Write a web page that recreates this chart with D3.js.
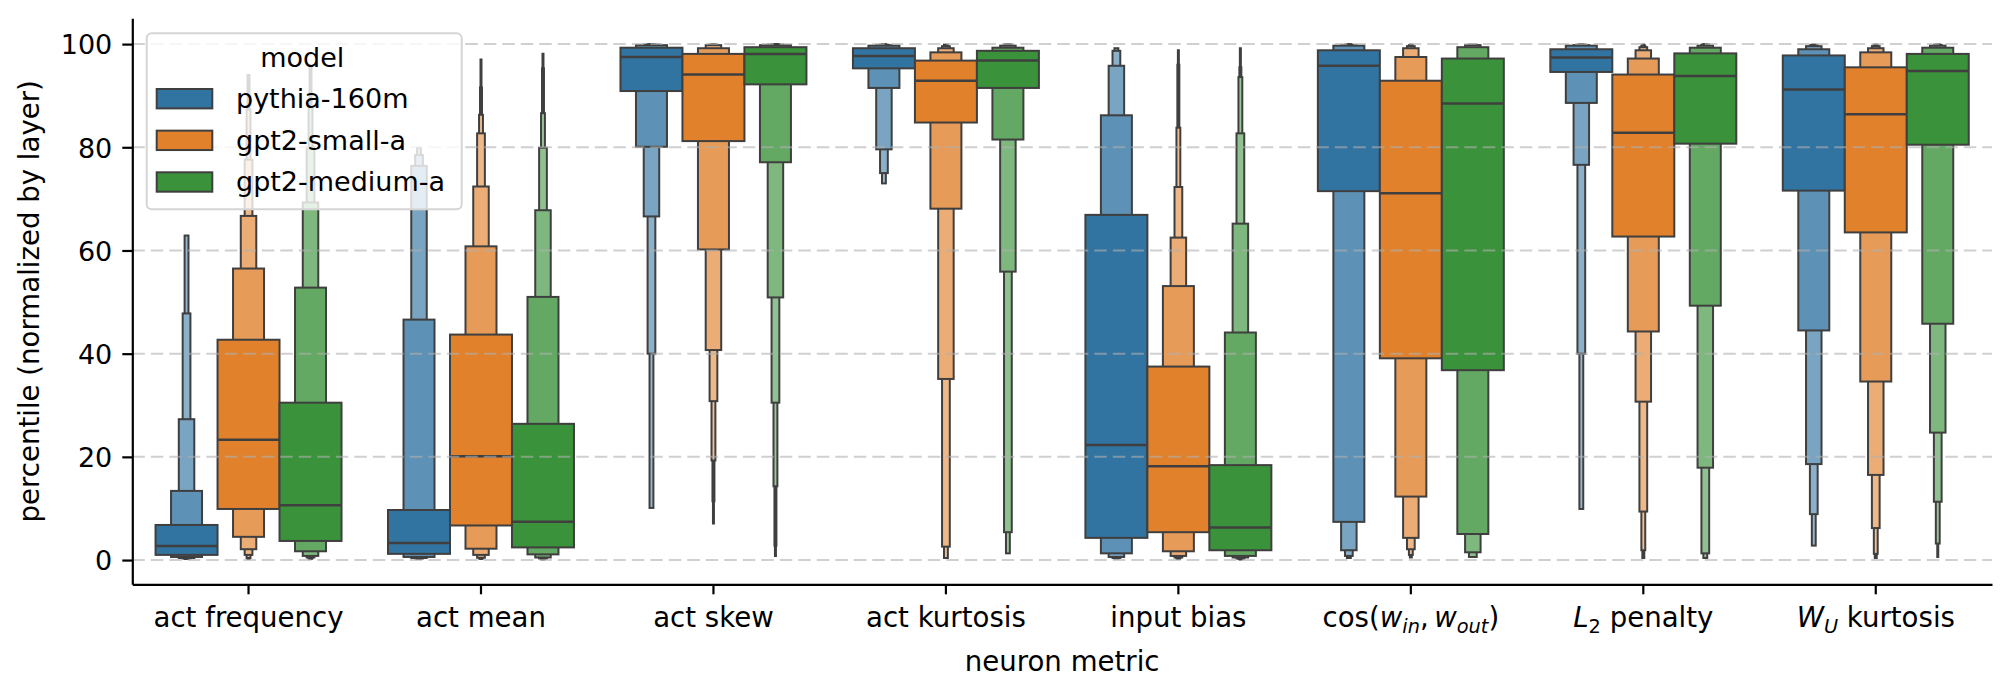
<!DOCTYPE html>
<html>
<head>
<meta charset="utf-8">
<script src="https://cdn.jsdelivr.net/npm/d3@7"></script>
<style>
  body { margin: 0; background: #fff; }
  text { font-family: "DejaVu Sans", sans-serif; }
</style>
</head>
<body>
<svg id="chart" width="2011" height="696"></svg>
<script>
// categories (x) and hue levels
var metrics = ["act frequency", "act mean", "act skew", "act kurtosis", "input bias",
               "cos($w_{in}, w_{out}$)", "$L_2$ penalty", "$W_U$ kurtosis"];
var models = ["pythia-160m", "gpt2-small-a", "gpt2-medium-a"];
var palette = ["#3274a1", "#e1812c", "#3a923a"];
var yTicks = [0, 20, 40, 60, 80, 100];

// letter values: per metric, [low, high] from the inner box outwards
var pythiaMedian = [2.7, 3.3, 97.5, 97.7, 22.3, 95.8, 97.4, 91.2];
var pythiaLevels = [
  [[1.0, 6.8], [0.6, 13.4], [0.4, 27.3], [0.3, 47.8], [0.2, 62.9]],
  [[1.2, 9.7], [0.6, 46.6], [0.4, 76.4], [0.3, 78.5], [0.2, 79.9]],
  [[90.9, 99.3], [80.1, 99.8], [66.6, 99.9], [40.0, 99.95], [10.1, 100]],
  [[95.3, 99.2], [91.5, 99.7], [79.6, 99.8], [75.0, 99.9], [73.0, 100]],
  [[4.3, 66.9], [1.3, 86.2], [0.6, 95.8], [0.4, 98.7], [0.3, 99.2]],
  [[71.5, 98.8], [7.4, 99.7], [1.9, 99.8], [0.8, 99.9], [0.4, 100]],
  [[94.6, 99.0], [88.6, 99.7], [76.6, 99.8], [40.0, 99.9], [9.9, 100]],
  [[71.6, 97.8], [44.5, 99.0], [18.6, 99.6], [8.9, 99.8], [2.8, 99.9]]
];
var pythiaOutliers = [null, null, null, null, null, null, null, null];

var smallMedian = [23.3, 20.1, 94.1, 92.9, 18.2, 71.1, 82.8, 86.4];
var smallLevels = [
  [[9.9, 42.7], [4.5, 56.5], [2.1, 66.7], [1.0, 77.6], [0.4, 87.3], [0.2, 94.0]],
  [[6.7, 43.7], [2.2, 60.8], [1.0, 72.4], [0.45, 82.7], [0.3, 86.3], [0.2, 91.6]],
  [[81.2, 98.1], [60.2, 99.2], [40.7, 99.8], [30.8, 99.9], [19.3, 99.95], [11.4, 100]],
  [[84.8, 96.8], [68.1, 98.4], [35.1, 99.2], [2.6, 99.6], [0.4, 99.9]],
  [[5.4, 37.5], [1.7, 53.1], [0.8, 62.5], [0.5, 72.3], [0.3, 83.8], [0.2, 96.0]],
  [[39.1, 92.9], [12.3, 97.5], [4.3, 99.2], [2.1, 99.6], [1.0, 99.8], [0.5, 99.9]],
  [[62.7, 94.1], [44.3, 97.2], [30.7, 98.8], [9.4, 99.4], [1.9, 99.7], [0.4, 99.9]],
  [[63.5, 95.5], [34.6, 98.4], [16.5, 99.2], [6.2, 99.6], [1.2, 99.8], [0.4, 99.9]]
];
var smallOutliers = [null, [0.2, 97.2], [6.9, 100], null, [0.2, 99.0], null, null, null];

var mediumMedian = [10.6, 7.4, 98.1, 96.8, 6.3, 88.5, 93.8, 94.8];
var mediumLevels = [
  [[3.7, 30.5], [1.7, 52.8], [0.8, 69.3], [0.5, 80.0], [0.3, 88.0], [0.2, 95.6]],
  [[2.45, 26.4], [1.1, 51.0], [0.5, 67.8], [0.3, 79.9], [0.2, 86.6], [0.1, 95.3]],
  [[92.2, 99.4], [77.1, 99.8], [50.9, 99.9], [30.5, 99.95], [14.3, 100], [2.8, 100]],
  [[91.5, 98.7], [81.5, 99.3], [55.9, 99.7], [5.4, 99.9], [1.3, 100]],
  [[1.9, 18.4], [0.8, 44.1], [0.5, 65.2], [0.3, 82.7], [0.2, 93.6], [0.1, 95.5]],
  [[36.8, 97.2], [5.05, 99.4], [1.5, 99.8], [0.6, 99.9]],
  [[80.7, 98.2], [49.3, 99.3], [17.9, 99.7], [1.3, 99.9], [0.4, 100]],
  [[80.5, 98.1], [45.8, 99.3], [24.7, 99.7], [11.3, 99.85], [3.2, 99.95]]
];
var mediumOutliers = [null, [0.1, 98.3], [0.6, 100], null, [0.1, 99.4], null, null, [0.4, 100]];

var medians = [pythiaMedian, smallMedian, mediumMedian];
var levels = [pythiaLevels, smallLevels, mediumLevels];
var outliers = [pythiaOutliers, smallOutliers, mediumOutliers];

// plot area
var plotLeft = 132.3, plotRight = 1992, plotTop = 18.3, plotBottom = 584.3;
var dark = "#3f3f3f";
var fontSize = 27;
var labelSize = 27.6;

var svg = d3.select("#chart");

var x = d3.scaleBand().domain(metrics).range([plotLeft, plotRight]);
var xHue = d3.scaleBand().domain(models)
             .range([-0.4 * x.bandwidth(), 0.4 * x.bandwidth()]);
var y = d3.scaleLinear().domain([-4.7, 105]).range([plotBottom, plotTop]);

// lighter colour for the outer letter-value boxes
function levelColor(c, i) {
  return d3.interpolateRgb(c, "#ffffff")(0.6 * (1 - Math.pow(0.65, i)));
}

var plot = svg.append("g");

metrics.forEach(function(m, mi) {
  models.forEach(function(model, hi) {
    var cx = x(m) + x.bandwidth() / 2 + xHue(model) + xHue.bandwidth() / 2;
    var bw = xHue.bandwidth();
    var g = plot.append("g");

    // outliers: dense markers, seen as a dark line
    var o = outliers[hi][mi];
    if (o) {
      g.append("line")
       .attr("x1", cx).attr("x2", cx)
       .attr("y1", y(o[0])).attr("y2", y(o[1]))
       .attr("stroke", dark).attr("stroke-width", 3);
    }

    var lv = levels[hi][mi];
    // outermost first, inner box on top
    for (var i = lv.length - 1; i >= 0; i--) {
      var w = bw * Math.pow(0.5, i);
      g.append("rect")
       .attr("x", cx - w / 2)
       .attr("y", y(lv[i][1]))
       .attr("width", w)
       .attr("height", Math.max(y(lv[i][0]) - y(lv[i][1]), 0.5))
       .attr("fill", levelColor(palette[hi], i))
       .attr("stroke", dark)
       .attr("stroke-width", 2);
    }

    g.append("line")
     .attr("x1", cx - bw / 2).attr("x2", cx + bw / 2)
     .attr("y1", y(medians[hi][mi])).attr("y2", y(medians[hi][mi]))
     .attr("stroke", dark).attr("stroke-width", 2.5);
  });
});

// dashed grid, drawn over the boxes
svg.append("g")
   .selectAll("line")
   .data(yTicks)
   .enter().append("line")
   .attr("x1", plotLeft).attr("x2", plotRight)
   .attr("y1", function(d) { return y(d); })
   .attr("y2", function(d) { return y(d); })
   .attr("stroke", "#b0b0b0")
   .attr("stroke-opacity", 0.6)
   .attr("stroke-width", 2)
   .attr("stroke-dasharray", "12.5,6");

// y axis
var yAxis = svg.append("g")
   .attr("transform", "translate(" + plotLeft + ",0)")
   .call(d3.axisLeft(y).tickValues(yTicks).tickSize(10).tickSizeOuter(0).tickPadding(10));
yAxis.select(".domain").attr("stroke", "#000").attr("stroke-width", 2.2);
yAxis.selectAll(".tick line").attr("stroke", "#000").attr("stroke-width", 2.2);
yAxis.selectAll(".tick text")
     .attr("font-size", fontSize).attr("fill", "#000")
     .attr("font-family", "DejaVu Sans").attr("dy", "0.36em");

// x axis
var xAxis = svg.append("g")
   .attr("transform", "translate(0," + plotBottom + ")")
   .call(d3.axisBottom(x).tickSize(10).tickSizeOuter(0));
xAxis.select(".domain").attr("stroke", "#000").attr("stroke-width", 2.2);
xAxis.selectAll(".tick line").attr("stroke", "#000").attr("stroke-width", 2.2);
xAxis.selectAll(".tick text").remove();

// tick labels with a small mathtext reader ($...$, _x or _{..})
function mathLabel(sel, label, size) {
  var parts = label.split("$");
  var shift = 0;
  function add(str, italic, sub) {
    var t = sel.append("tspan").text(str);
    if (italic) t.attr("font-style", "italic");
    var want = sub ? 0.2 * size : 0;
    if (want !== shift) { t.attr("dy", want - shift); shift = want; }
    if (sub) t.attr("font-size", size * 0.7);
  }
  parts.forEach(function(p, k) {
    if (k % 2 === 0) { if (p) add(p, false, false); return; }
    var i = 0;
    while (i < p.length) {
      var ch = p[i];
      if (ch === "_") {
        var grp;
        if (p[i + 1] === "{") { var end = p.indexOf("}", i); grp = p.slice(i + 2, end); i = end + 1; }
        else { grp = p[i + 1]; i += 2; }
        add(grp, /[A-Za-z]/.test(grp), true);
      } else if (ch === " ") {
        i++;
      } else {
        add(ch === "," ? ",\u2009" : ch, /[A-Za-z]/.test(ch), false);
        i++;
      }
    }
  });
  if (shift !== 0) sel.append("tspan").attr("dy", -shift).text("");
}

xAxis.selectAll(".tick").each(function(d) {
  var t = d3.select(this).append("text")
    .attr("y", 42.7)
    .attr("text-anchor", "middle")
    .attr("font-size", labelSize)
    .attr("fill", "#000");
  mathLabel(t, d, labelSize);
});

// axis titles
svg.append("text")
   .attr("x", (plotLeft + plotRight) / 2).attr("y", 671)
   .attr("text-anchor", "middle").attr("font-size", labelSize)
   .text("neuron metric");
svg.append("text")
   .attr("transform", "translate(39," + (plotTop + plotBottom) / 2 + ") rotate(-90)")
   .attr("text-anchor", "middle").attr("font-size", labelSize)
   .text("percentile (normalized by layer)");

// legend
var legend = svg.append("g");
legend.append("rect")
   .attr("x", 146.7).attr("y", 33.3).attr("width", 315).attr("height", 176)
   .attr("rx", 5)
   .attr("fill", "#fff").attr("fill-opacity", 0.8)
   .attr("stroke", "#d5d5d5").attr("stroke-width", 2);
legend.append("text")
   .attr("x", 302.3).attr("y", 67)
   .attr("text-anchor", "middle").attr("font-size", fontSize)
   .text("model");
models.forEach(function(m, i) {
  var cy = 98.7 + i * 41.65;
  legend.append("rect")
     .attr("x", 156.7).attr("y", cy - 9.7).attr("width", 55.6).attr("height", 19.4)
     .attr("fill", palette[i]).attr("stroke", dark).attr("stroke-width", 2);
  legend.append("text")
     .attr("x", 236).attr("y", cy + 9.3)
     .attr("font-size", fontSize)
     .text(m);
});
</script>
</body>
</html>
